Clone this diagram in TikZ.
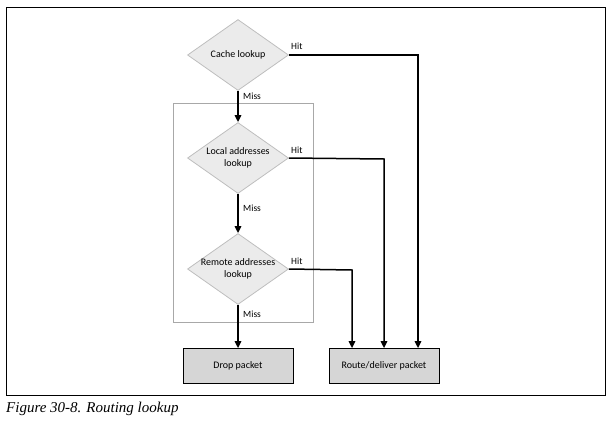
\documentclass[tikz,border=0pt]{standalone}
\usepackage{fontspec}
\newfontfamily\labfont{Carlito}
\newfontfamily\capfont{Liberation Serif}
\usetikzlibrary{shapes.geometric,arrows.meta}
\definecolor{dfill}{HTML}{EBEBEB}
\definecolor{dline}{HTML}{BEBEBE}
\definecolor{bfill}{HTML}{D6D6D6}
\definecolor{fline}{HTML}{A8A8A8}
\begin{document}
\begin{tikzpicture}[x=1pt,y=-1pt,
  decision/.style={diamond,draw=dline,fill=dfill,line width=0.8pt,minimum width=101pt,minimum height=71pt,inner sep=0pt},
  dtext/.style={align=center,font=\labfont\fontsize{10}{11.5}\selectfont,inner sep=0pt},
  endbox/.style={rectangle,draw=black,fill=bfill,line width=0.8pt,minimum width=110pt,minimum height=35pt,inner sep=0pt,font=\labfont\fontsize{10}{11}\selectfont},
  flow/.style={draw=black,line width=1.5pt,-{Triangle[length=7pt,width=6.5pt]}},
  lab/.style={font=\labfont\fontsize{9.5}{10}\selectfont,inner sep=0pt}]
\useasboundingbox (0,0) rectangle (610,426);
\node[draw=black,line width=1pt,anchor=north west,inner sep=0pt] (frame) at (6,7) {\tikz[x=1pt]\path (0,0) rectangle (598.5,388);};
\node[draw=fline,line width=1.2pt,anchor=north west,inner sep=0pt] (inner) at (173,103) {\tikz[x=1pt]\path (0,0) rectangle (140,219);};
\node[decision] (cache) at (238,55) {};
\node[decision] (local) at (238,158) {};
\node[decision] (remote) at (238,269) {};
\node[dtext] (cachet) at (cache.center) {Cache lookup};
\node[dtext] (localt) at (local.center) {Local addresses\\lookup};
\node[dtext] (remotet) at (remote.center) {Remote addresses\\lookup};
\node[endbox] (drop) at (238,366) {Drop packet};
\node[endbox] (route) at (384,366) {Route/deliver packet};
\coordinate (c1) at (418,55);
\coordinate (l1) at (384,159);
\coordinate (r1) at (352,270);
\draw[flow] (cache.east) -- (c1) -- (c1 |- route.north);
\draw[flow] (local.east) -- (l1) -- (l1 |- route.north);
\draw[flow] (remote.east) -- (r1) -- (r1 |- route.north);
\draw[flow] (cache.south) -- (local.north);
\draw[flow] (local.south) -- (remote.north);
\draw[flow] (remote.south) -- (drop.north);
\node[lab,anchor=west] (h1) at (291,46) {Hit};
\node[lab,anchor=west] (h2) at (291,150) {Hit};
\node[lab,anchor=west] (h3) at (291,261) {Hit};
\node[lab,anchor=west] (m1) at (243,96) {Miss};
\node[lab,anchor=west] (m2) at (243,208) {Miss};
\node[lab,anchor=west] (m3) at (243,314) {Miss};
\node[anchor=west,inner sep=0pt,font=\capfont\itshape\fontsize{15}{17}\selectfont] (cap) at (6,409) {Figure 30-8. Routing lookup};
\end{tikzpicture}
\end{document}
